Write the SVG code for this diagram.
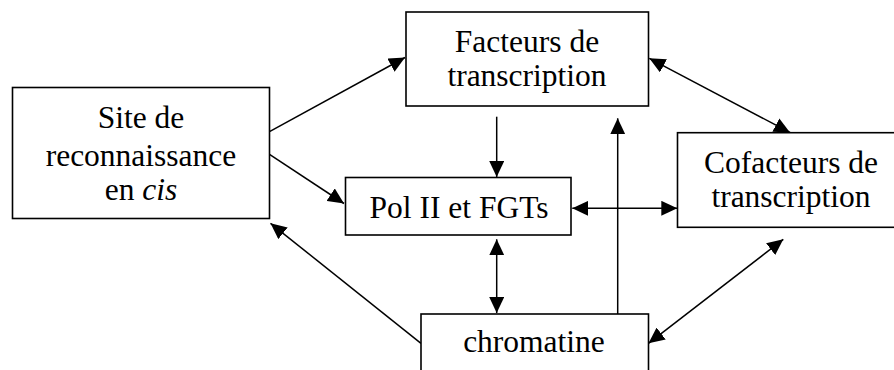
<svg xmlns="http://www.w3.org/2000/svg" width="894" height="370" viewBox="0 0 894 370">
<style>
.box{fill:#fff;stroke:#000;stroke-width:1.6}
.t{font-family:'Liberation Serif','Times New Roman',serif;font-size:31.5px;fill:#000;text-anchor:middle}
.c{stroke:#000;stroke-width:1.5;fill:none}
.one{marker-end:url(#ah)}
.two{marker-start:url(#ah);marker-end:url(#ah)}
</style>
<defs>
<marker id="ah" markerUnits="userSpaceOnUse" markerWidth="17" markerHeight="15" refX="16" refY="7.5" orient="auto-start-reverse" viewBox="0 0 17 15">
<path d="M0,0 L16,7.5 L0,15 z" fill="#000"/>
</marker>
</defs>
<rect width="894" height="370" fill="#fff"/>
<g id="connectors">
<line class="c one" x1="269.5" y1="131.7" x2="405" y2="57.5"/>
<line class="c one" x1="269.5" y1="154.3" x2="344" y2="203.5"/>
<line class="c one" x1="421" y1="343.3" x2="270.5" y2="223.3"/>
<line class="c one" x1="496.7" y1="116.7" x2="496.7" y2="177"/>
<line class="c one" x1="617.7" y1="314" x2="617.7" y2="118.3"/>
<line class="c two" x1="649.3" y1="58.3" x2="790" y2="132.5"/>
<line class="c two" x1="572.3" y1="208.3" x2="677.3" y2="208.3"/>
<line class="c two" x1="496.7" y1="239.3" x2="496.7" y2="313"/>
<line class="c two" x1="648.5" y1="343.3" x2="783.3" y2="239.3"/>
</g>
<g id="site">
<rect class="box" x="12.5" y="87.5" width="257" height="131"/>
<text class="t" font-family="Liberation Serif, serif" x="141" y="128">Site de</text>
<text class="t" font-family="Liberation Serif, serif" x="141" y="165.5">reconnaissance</text>
<text class="t" font-family="Liberation Serif, serif" x="141" y="200">en <tspan font-style="italic">cis</tspan></text>
</g>
<g id="facteurs">
<rect class="box" x="406" y="12" width="242.5" height="94"/>
<text class="t" font-family="Liberation Serif, serif" x="527" y="51.5">Facteurs de</text>
<text class="t" font-family="Liberation Serif, serif" x="527" y="86">transcription</text>
</g>
<g id="pol">
<rect class="box" x="345.5" y="177.5" width="225.5" height="57.5"/>
<text class="t" font-family="Liberation Serif, serif" x="459" y="218.3">Pol II et FGTs</text>
</g>
<g id="cofacteurs">
<rect class="box" x="677.5" y="132.7" width="228" height="94.6"/>
<text class="t" font-family="Liberation Serif, serif" x="791" y="173.3">Cofacteurs de</text>
<text class="t" font-family="Liberation Serif, serif" x="791" y="207.3">transcription</text>
</g>
<g id="chromatine">
<rect class="box" x="421" y="314" width="227.5" height="70"/>
<text class="t" font-family="Liberation Serif, serif" x="534" y="351.7">chromatine</text>
</g>
</svg>
